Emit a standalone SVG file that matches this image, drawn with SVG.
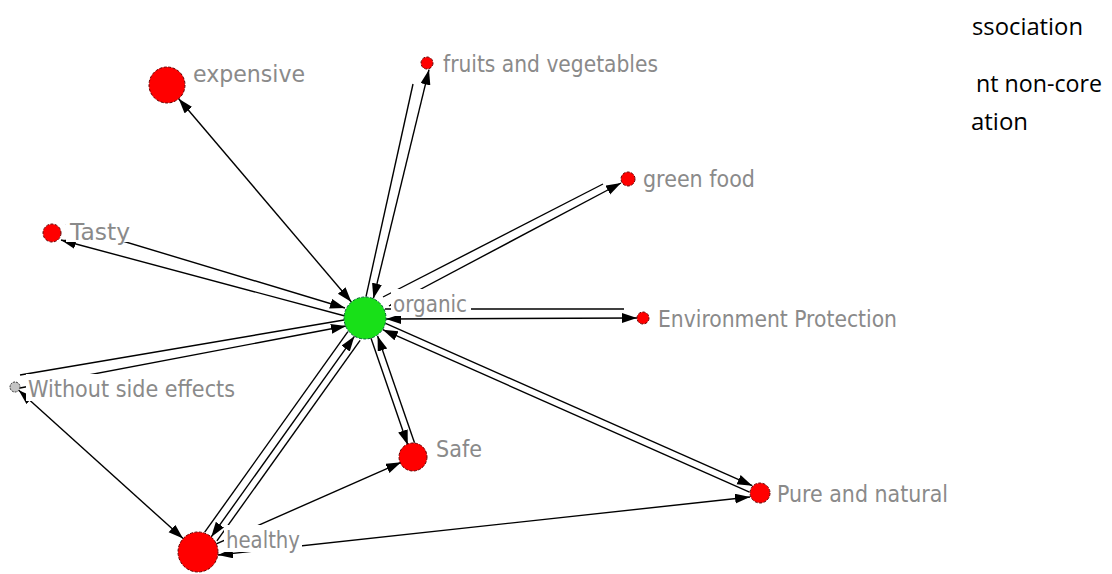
<svg xmlns="http://www.w3.org/2000/svg" width="1112" height="574" viewBox="0 0 1112 574">
<style>
.e{stroke:#000;stroke-width:1.4;fill:none}
.lab{font-family:"DejaVu Sans",Verdana,sans-serif;font-size:23px;fill:#8a8a8a}
.bg{fill:#fff}
.red{fill:#ff0000;stroke:#600;stroke-width:1;stroke-dasharray:3 1.5}
.grn{fill:#18e018;stroke:#063;stroke-width:1;stroke-dasharray:3 1.5}
.gry{fill:#c4c4c4;stroke:#333;stroke-width:1;stroke-dasharray:2 1}
.doc{font-family:"Open Sans","Liberation Sans",sans-serif;font-size:24px;fill:#000}
</style>
<defs>
<marker id="ah" markerUnits="userSpaceOnUse" markerWidth="16" markerHeight="11" refX="15" refY="5" orient="auto-start-reverse" viewBox="0 0 16 11">
<path d="M0,0 L15,5 L0,10 z" fill="#000"/>
</marker>
</defs>
<rect width="1112" height="574" fill="#fff"/>
<g id="doc-text">
<text class="doc" x="972" y="35" textLength="111" lengthAdjust="spacingAndGlyphs">ssociation</text>
<text class="doc" x="976" y="92" textLength="126" lengthAdjust="spacingAndGlyphs">nt non-core</text>
<text class="doc" x="971" y="130" textLength="57" lengthAdjust="spacingAndGlyphs">ation</text>
</g>
<g id="connectors">
<line class="e" x1="178.7" y1="98.7" x2="351.4" y2="302" marker-start="url(#ah)" marker-end="url(#ah)"/>
<line class="e" x1="373.4" y1="298.4" x2="429" y2="69.7" marker-start="url(#ah)" marker-end="url(#ah)"/>
<line class="e" x1="366" y1="296.6" x2="413" y2="84"/>
<line class="e" x1="383" y1="297" x2="603" y2="184"/>
<line class="e" x1="389" y1="306" x2="621" y2="183" marker-start="url(#ah)" marker-end="url(#ah)"/>
<line class="e" x1="66" y1="224" x2="345" y2="308" marker-end="url(#ah)"/>
<line class="e" x1="345" y1="316" x2="61" y2="240" marker-end="url(#ah)"/>
<line class="e" x1="385" y1="309" x2="624" y2="309"/>
<line class="e" x1="386" y1="319" x2="637" y2="318" marker-start="url(#ah)" marker-end="url(#ah)"/>
<line class="e" x1="20" y1="375" x2="344" y2="320"/>
<line class="e" x1="20" y1="388" x2="346" y2="326" marker-end="url(#ah)"/>
<line class="e" x1="371" y1="338.2" x2="407.8" y2="445" marker-end="url(#ah)"/>
<line class="e" x1="414.5" y1="442.7" x2="377.6" y2="335.9" marker-end="url(#ah)"/>
<line class="e" x1="385.6" y1="323.3" x2="752.3" y2="485.7" marker-end="url(#ah)"/>
<line class="e" x1="749.5" y1="492.1" x2="382.8" y2="329.7" marker-end="url(#ah)"/>
<line class="e" x1="347.9" y1="331.6" x2="204.7" y2="532.2"/>
<line class="e" x1="354.4" y1="336.3" x2="211.2" y2="536.9" marker-start="url(#ah)" marker-end="url(#ah)"/>
<line class="e" x1="360.1" y1="340.3" x2="216.9" y2="540.9"/>
<line class="e" x1="216.3" y1="543.9" x2="401.1" y2="462.3" marker-end="url(#ah)"/>
<line class="e" x1="218" y1="555" x2="750" y2="497" marker-start="url(#ah)" marker-end="url(#ah)"/>
<line class="e" x1="18.7" y1="390.3" x2="183.1" y2="538.6" marker-start="url(#ah)" marker-end="url(#ah)"/>
</g>
<g id="node-organic">
<circle class="grn" cx="365" cy="318" r="21"/>
<rect class="bg" x="391" y="289" width="80" height="27"/>
<text class="lab" x="393" y="312" textLength="74" lengthAdjust="spacingAndGlyphs">organic</text>
</g>
<g id="node-expensive">
<circle class="red" cx="167" cy="85" r="18"/>
<rect class="bg" x="191" y="59" width="117" height="32"/>
<text class="lab" x="193" y="82" textLength="112" lengthAdjust="spacingAndGlyphs">expensive</text>
</g>
<g id="node-fruits">
<circle class="red" cx="427" cy="63" r="6"/>
<rect class="bg" x="441" y="49" width="220" height="30"/>
<text class="lab" x="443" y="72" textLength="215" lengthAdjust="spacingAndGlyphs">fruits and vegetables</text>
</g>
<g id="node-green-food">
<circle class="red" cx="628" cy="179" r="7"/>
<rect class="bg" x="641" y="164" width="117" height="29"/>
<text class="lab" x="643" y="187" textLength="112" lengthAdjust="spacingAndGlyphs">green food</text>
</g>
<g id="node-tasty">
<circle class="red" cx="52" cy="233" r="9"/>
<rect class="bg" x="66" y="218" width="67" height="24"/>
<text class="lab" x="70" y="240" textLength="60" lengthAdjust="spacingAndGlyphs">Tasty</text>
</g>
<g id="node-environment">
<circle class="red" cx="643" cy="318" r="6"/>
<rect class="bg" x="655" y="304" width="245" height="29"/>
<text class="lab" x="658" y="327" textLength="239" lengthAdjust="spacingAndGlyphs">Environment Protection</text>
</g>
<g id="node-without">
<circle class="gry" cx="15" cy="387" r="5"/>
<rect class="bg" x="26" y="374" width="212" height="27"/>
<text class="lab" x="28" y="397" textLength="207" lengthAdjust="spacingAndGlyphs">Without side effects</text>
</g>
<g id="node-safe">
<circle class="red" cx="413" cy="457" r="14"/>
<rect class="bg" x="434" y="434" width="50" height="28"/>
<text class="lab" x="436" y="457" textLength="46" lengthAdjust="spacingAndGlyphs">Safe</text>
</g>
<g id="node-pure">
<circle class="red" cx="760" cy="493" r="10"/>
<rect class="bg" x="775" y="479" width="176" height="29"/>
<text class="lab" x="777" y="502" textLength="171" lengthAdjust="spacingAndGlyphs">Pure and natural</text>
</g>
<g id="node-healthy">
<circle class="red" cx="198" cy="552" r="20"/>
<rect class="bg" x="224" y="525" width="78" height="27"/>
<text class="lab" x="226" y="548" textLength="74" lengthAdjust="spacingAndGlyphs">healthy</text>
</g>
</svg>
